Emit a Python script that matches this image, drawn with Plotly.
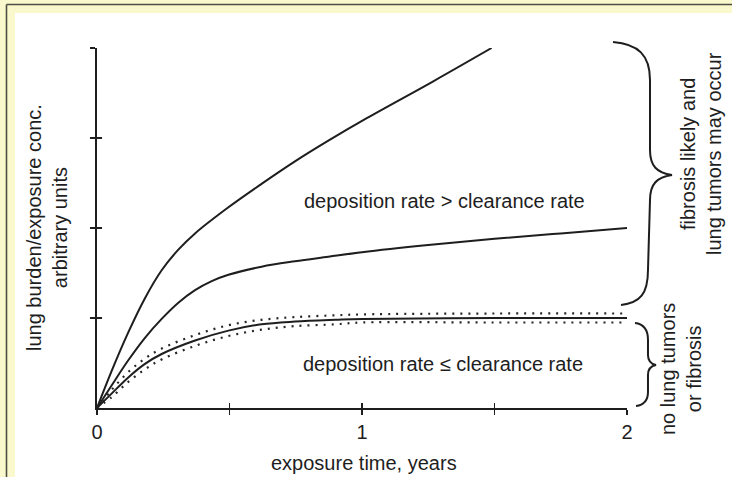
import plotly.graph_objects as go

# ---------------- data ----------------
t_fast = [0, 0.055, 0.118, 0.181, 0.244, 0.307, 0.370, 0.496, 0.621, 0.747, 0.873, 1.018, 1.269, 1.489]
burden_fast = [0, 0.41, 0.84, 1.22, 1.53, 1.76, 1.94, 2.23, 2.49, 2.74, 2.97, 3.22, 3.63, 4.00]

t_mid = [0, 0.055, 0.118, 0.181, 0.244, 0.307, 0.370, 0.433, 0.496, 0.621, 0.747, 0.873, 1.0, 1.25, 1.5, 1.75, 2.0]
burden_mid = [0, 0.25, 0.53, 0.78, 0.99, 1.17, 1.31, 1.41, 1.48, 1.57, 1.63, 1.68, 1.73, 1.81, 1.88, 1.94, 2.0]

t_low = [0, 0.055, 0.118, 0.181, 0.244, 0.370, 0.496, 0.621, 0.747, 0.90, 1.0, 1.5, 2.0]
burden_low = [0, 0.16, 0.34, 0.49, 0.60, 0.75, 0.86, 0.93, 0.96, 0.98, 0.99, 1.00, 1.00]
burden_low_upper = [0, 0.20, 0.40, 0.55, 0.66, 0.81, 0.92, 0.98, 1.01, 1.03, 1.04, 1.05, 1.05]
burden_low_lower = [0, 0.12, 0.29, 0.43, 0.54, 0.69, 0.80, 0.87, 0.91, 0.93, 0.95, 0.95, 0.95]

x_tickvals = [0, 0.5, 1, 1.5, 2]
x_ticktext = ["0", "", "1", "", "2"]
y_tickvals = [1, 2, 3, 4]

# ---------------- styling ----------------
W, H = 732, 477
ML, MR, MT, MB = 97, 105, 48, 69
PW, PH = W - ML - MR, H - MT - MB
FONT = "Liberation Sans, Arial, Helvetica, sans-serif"
INK = "#1e1e1e"
YELLOW = "#faf8cd"
FS = 20


def px(x):
    return (x - ML) / PW


def py(y):
    return (H - MB - y) / PH


def path_from_pixels(cmds):
    out = []
    for c in cmds:
        op, pts = c[0], c[1:]
        out.append(op + " " + " ".join(f"{px(a):.4f},{py(b):.4f}" for a, b in pts))
    return " ".join(out)


fig = go.Figure()

line_style = dict(color=INK, width=2, shape="spline", smoothing=1.0)
fig.add_trace(go.Scatter(x=t_fast, y=burden_fast, mode="lines", line=line_style,
                         showlegend=False, hoverinfo="skip"))
fig.add_trace(go.Scatter(x=t_mid, y=burden_mid, mode="lines", line=line_style,
                         showlegend=False, hoverinfo="skip"))
fig.add_trace(go.Scatter(x=t_low, y=burden_low, mode="lines", line=line_style,
                         showlegend=False, hoverinfo="skip"))
dot_style = dict(color="#262626", width=2.2, dash="2px,6px", shape="spline", smoothing=1.0)
fig.add_trace(go.Scatter(x=t_low, y=burden_low_upper, mode="lines", line=dot_style,
                         showlegend=False, hoverinfo="skip"))
fig.add_trace(go.Scatter(x=t_low, y=burden_low_lower, mode="lines", line=dot_style,
                         showlegend=False, hoverinfo="skip"))
# empty trace that creates the overlay axes carrying the inner halves of the ticks
fig.add_trace(go.Scatter(x=[], y=[], xaxis="x2", yaxis="y2", showlegend=False, hoverinfo="skip"))

axis_common = dict(showgrid=False, zeroline=False, fixedrange=True)

fig.update_layout(
    width=W, height=H,
    margin=dict(l=ML, r=MR, t=MT, b=MB, pad=0, autoexpand=False),
    paper_bgcolor=YELLOW,
    plot_bgcolor="white",
    font=dict(family=FONT, size=FS, color=INK),
    showlegend=False,
    xaxis=dict(range=[0, 2], showline=True, linecolor=INK, linewidth=2,
               ticks="outside", ticklen=5, tickwidth=1.5, tickcolor=INK,
               tickmode="array", tickvals=x_tickvals, ticktext=x_ticktext,
               tickfont=dict(family=FONT, size=FS, color=INK),
               ticklabelstandoff=0, **axis_common),
    yaxis=dict(range=[0, 4], showline=True, linecolor=INK, linewidth=2,
               ticks="outside", ticklen=5, tickwidth=1.5, tickcolor=INK,
               tickmode="array", tickvals=y_tickvals, showticklabels=False,
               **axis_common),
    xaxis2=dict(range=[0, 2], overlaying="x", anchor="y2", side="bottom",
                showline=False, ticks="inside", ticklen=5, tickwidth=1.5, tickcolor=INK,
                tickmode="array", tickvals=[0.5, 1, 1.5, 2], showticklabels=False,
                **axis_common),
    yaxis2=dict(range=[0, 4], overlaying="y", anchor="x2", side="left",
                showline=False, ticks="inside", ticklen=5, tickwidth=1.5, tickcolor=INK,
                tickmode="array", tickvals=y_tickvals, showticklabels=False,
                **axis_common),
)

# ---------------- frame (white panel + dark border) ----------------
shapes = [
    dict(type="rect", xref="paper", yref="paper", layer="below",
         x0=px(15), x1=px(W + 10), y0=py(13), y1=py(H + 10),
         fillcolor="white", line=dict(width=0)),
    dict(type="line", xref="paper", yref="paper", layer="below",
         x0=px(6.5), x1=px(W + 10), y0=py(4.5), y1=py(4.5),
         line=dict(color="#4e4e44", width=1.6)),
    dict(type="line", xref="paper", yref="paper", layer="below",
         x0=px(6.5), x1=px(6.5), y0=py(4.5), y1=py(H + 10),
         line=dict(color="#4e4e44", width=1.6)),
]

big_brace = [
    ("M", (613, 42)),
    ("C", (638, 44), (650, 55), (650, 80)),
    ("L", (650, 150)),
    ("C", (650, 166), (657, 173), (672, 175)),
    ("C", (657, 177), (650, 184), (650, 200)),
    ("L", (648, 270)),
    ("C", (648, 294), (640, 303), (621, 305)),
]
small_brace = [
    ("M", (635, 323)),
    ("C", (644, 324), (648, 330), (648, 340)),
    ("L", (648, 355)),
    ("C", (648, 361), (651, 364), (656, 365)),
    ("C", (651, 366), (648, 369), (648, 375)),
    ("L", (648, 392)),
    ("C", (648, 400), (644, 405), (636, 406)),
]
for br in (big_brace, small_brace):
    shapes.append(dict(type="path", xref="paper", yref="paper",
                       path=path_from_pixels(br), line=dict(color=INK, width=2)))
fig.update_layout(shapes=shapes)

# ---------------- texts ----------------
def note(text, x, y, angle=0):
    fig.add_annotation(text=text, xref="paper", yref="paper", x=px(x), y=py(y),
                       xanchor="center", yanchor="middle", showarrow=False,
                       textangle=angle, font=dict(family=FONT, size=FS, color=INK))


note("deposition rate &gt; clearance rate", 444, 201)
note("deposition rate ≤ clearance rate", 443, 364)
note("exposure time, years", 364, 463)
note("lung burden/exposure conc.<br>arbitrary units", 47, 228, -90)
note("fibrosis likely and<br>lung tumors may occur", 701, 154, -90)
note("no lung tumors<br>or fibrosis", 681, 369, -90)

fig.write_html(
    "out.html",
    config={"displayModeBar": False, "staticPlot": True},
    post_script=(
        "document.documentElement.style.margin='0';"
        "document.body.style.margin='0';"
        "document.body.style.overflow='hidden';"
        "document.documentElement.style.overflow='hidden';"
        "document.body.style.background='" + YELLOW + "';"
    ),
)
